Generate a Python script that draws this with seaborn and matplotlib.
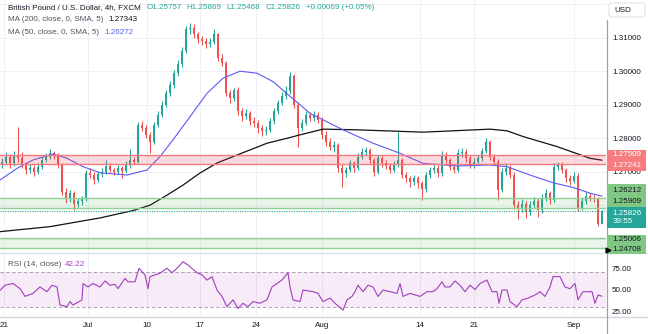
import matplotlib
matplotlib.use("Agg")
import numpy as np
import pandas as pd
import matplotlib.pyplot as plt
from matplotlib.patches import Rectangle, FancyBboxPatch
from matplotlib.lines import Line2D
import seaborn as sns

# ---------------- data (GBP/USD 4h) ----------------
first_open = 1.2720
closes = [
    1.2730, 1.2745, 1.2725, 1.2750, 1.2740, 1.2720, 1.2705, 1.2712, 1.2700, 1.2715,
    1.2735, 1.2745, 1.2755, 1.2748, 1.2720, 1.2640, 1.2620, 1.2635, 1.2605, 1.2612,
    1.2618, 1.2695, 1.2690, 1.2675, 1.2692, 1.2700, 1.2718, 1.2705, 1.2700, 1.2710,
    1.2702, 1.2720, 1.2735, 1.2730, 1.2840, 1.2830, 1.2810, 1.2790, 1.2840, 1.2870,
    1.2900, 1.2935, 1.2960, 1.2995, 1.3020, 1.3060, 1.3125, 1.3130, 1.3110, 1.3095,
    1.3090, 1.3080, 1.3088, 1.3110, 1.3040, 1.3025, 1.2935, 1.2920, 1.2945, 1.2880,
    1.2865, 1.2875, 1.2850, 1.2845, 1.2830, 1.2820, 1.2825, 1.2850, 1.2880, 1.2905,
    1.2925, 1.2940, 1.2985, 1.2900, 1.2830, 1.2845, 1.2870, 1.2860, 1.2870, 1.2855,
    1.2810, 1.2790, 1.2775, 1.2780, 1.2710, 1.2695, 1.2705, 1.2725, 1.2712, 1.2745,
    1.2760, 1.2765, 1.2735, 1.2700, 1.2740, 1.2725, 1.2718, 1.2705, 1.2722, 1.2735,
    1.2690, 1.2680, 1.2668, 1.2680, 1.2665, 1.2648, 1.2690, 1.2705, 1.2712, 1.2695,
    1.2750, 1.2735, 1.2715, 1.2705, 1.2755, 1.2760, 1.2740, 1.2722, 1.2728, 1.2740,
    1.2762, 1.2790, 1.2745, 1.2730, 1.2645, 1.2700, 1.2712, 1.2690, 1.2600, 1.2590,
    1.2605, 1.2580, 1.2600, 1.2612, 1.2585, 1.2620, 1.2635, 1.2615, 1.2715, 1.2722,
    1.2705, 1.2680, 1.2672, 1.2688, 1.2590, 1.2612, 1.2628, 1.2622, 1.2620, 1.2545,
    1.25826,
]
highs = [
    1.2742, 1.2760, 1.2752, 1.2762, 1.2833, 1.2758, 1.2728, 1.2722, 1.2720, 1.2725,
    1.2745, 1.2755, 1.2768, 1.2762, 1.2755, 1.2725, 1.2650, 1.2645, 1.2642, 1.2622,
    1.2628, 1.2705, 1.2712, 1.2698, 1.2700, 1.2710, 1.2735, 1.2725, 1.2712, 1.2720,
    1.2716, 1.2732, 1.2768, 1.2745, 1.2848, 1.2850, 1.2838, 1.2818, 1.2848, 1.2880,
    1.2912, 1.2945, 1.2972, 1.3005, 1.3032, 1.3072, 1.3135, 1.3143, 1.3140, 1.3118,
    1.3105, 1.3098, 1.3100, 1.3125, 1.3115, 1.3050, 1.3030, 1.2945, 1.2950, 1.2952,
    1.2890, 1.2888, 1.2882, 1.2862, 1.2855, 1.2838, 1.2835, 1.2860, 1.2890, 1.2915,
    1.2938, 1.2955, 1.2997, 1.2992, 1.2908, 1.2858, 1.2880, 1.2878, 1.2880, 1.2878,
    1.2862, 1.2820, 1.2800, 1.2792, 1.2785, 1.2722, 1.2715, 1.2735, 1.2732, 1.2755,
    1.2772, 1.2775, 1.2770, 1.2742, 1.2750, 1.2748, 1.2735, 1.2725, 1.2732, 1.2817,
    1.2742, 1.2700, 1.2688, 1.2690, 1.2688, 1.2672, 1.2700, 1.2715, 1.2722, 1.2720,
    1.2762, 1.2758, 1.2742, 1.2722, 1.2768, 1.2772, 1.2768, 1.2748, 1.2740, 1.2750,
    1.2772, 1.2800, 1.2795, 1.2752, 1.2738, 1.2712, 1.2725, 1.2720, 1.2698, 1.2612,
    1.2618, 1.2612, 1.2612, 1.2625, 1.2620, 1.2632, 1.2648, 1.2642, 1.2725, 1.2730,
    1.2728, 1.2712, 1.2690, 1.2700, 1.2695, 1.2622, 1.2638, 1.2635, 1.2632, 1.2625,
    1.25869,
]
lows = [
    1.2712, 1.2722, 1.2712, 1.2718, 1.2730, 1.2710, 1.2692, 1.2695, 1.2688, 1.2692,
    1.2708, 1.2728, 1.2738, 1.2738, 1.2712, 1.2630, 1.2608, 1.2610, 1.2585, 1.2595,
    1.2600, 1.2612, 1.2680, 1.2662, 1.2668, 1.2685, 1.2692, 1.2698, 1.2690, 1.2692,
    1.2680, 1.2695, 1.2712, 1.2722, 1.2725, 1.2820, 1.2800, 1.2755, 1.2782, 1.2832,
    1.2862, 1.2892, 1.2925, 1.2950, 1.2985, 1.3012, 1.3055, 1.3112, 1.3100, 1.3085,
    1.3078, 1.3070, 1.3072, 1.3082, 1.3030, 1.3015, 1.2925, 1.2905, 1.2910, 1.2868,
    1.2852, 1.2858, 1.2838, 1.2832, 1.2815, 1.2808, 1.2810, 1.2818, 1.2842, 1.2872,
    1.2898, 1.2918, 1.2932, 1.2890, 1.2775, 1.2822, 1.2838, 1.2850, 1.2852, 1.2845,
    1.2798, 1.2778, 1.2765, 1.2760, 1.2698, 1.2655, 1.2685, 1.2698, 1.2700, 1.2705,
    1.2738, 1.2750, 1.2725, 1.2688, 1.2692, 1.2715, 1.2708, 1.2695, 1.2698, 1.2715,
    1.2680, 1.2668, 1.2655, 1.2660, 1.2652, 1.2615, 1.2640, 1.2682, 1.2695, 1.2685,
    1.2688, 1.2725, 1.2705, 1.2695, 1.2698, 1.2745, 1.2730, 1.2710, 1.2712, 1.2720,
    1.2732, 1.2755, 1.2735, 1.2720, 1.2615, 1.2638, 1.2690, 1.2680, 1.2590, 1.2560,
    1.2580, 1.2562, 1.2572, 1.2592, 1.2565, 1.2578, 1.2612, 1.2605, 1.2610, 1.2705,
    1.2695, 1.2668, 1.2660, 1.2665, 1.2582, 1.2585, 1.2605, 1.2612, 1.2610, 1.2538,
    1.25468,
]

# moving averages (bar index, value)
ma200_t = [-0.5, 12, 24.5, 32.75, 37, 41.25, 45.25, 49.5, 53.75, 57.75, 62, 66.25,
           72, 74.5, 80.25, 88.75, 105.25, 122, 126.25, 130.25, 138.75, 147, 150]
ma200_v = [1.2521, 1.2536, 1.2562, 1.2584, 1.2600, 1.2630, 1.2660, 1.2696, 1.2726,
           1.2745, 1.2765, 1.2785, 1.2802, 1.2810, 1.2827, 1.2825, 1.2818, 1.2827,
           1.2822, 1.2805, 1.2775, 1.2740, 1.27343]
ma50_t = [-0.5, 3.75, 7.75, 12.75, 16.25, 20.25, 24.5, 31.25, 36.25, 39.5, 42.75, 47,
          51.25, 55.25, 59.5, 63.75, 67.75, 72, 74.5, 77, 85.25, 92.75, 99.5, 105.25,
          113.75, 122, 126.25, 132, 137.75, 142.75, 147, 150]
ma50_v = [1.2675, 1.2710, 1.2735, 1.2753, 1.2740, 1.2715, 1.2697, 1.2690, 1.2705,
          1.2745, 1.2795, 1.2864, 1.2934, 1.2979, 1.3000, 1.2994, 1.2969, 1.2925,
          1.2900, 1.2874, 1.2825, 1.2785, 1.2755, 1.2725, 1.2717, 1.2720, 1.2715,
          1.2690, 1.2667, 1.2653, 1.2636, 1.26272]

# RSI (bar index, value)
rsi_t = [-0.5, 0.75, 2.75, 4.5, 5.75, 7.75, 9.5, 11.25, 12.5, 13.75, 14.5, 16.25, 17,
         17.75, 20, 20.25, 21.5, 22.75, 24.5, 25.75, 27, 28.25, 29, 30.75, 31.5, 33.25,
         34.25, 35.75, 36.5, 37, 39.5, 41.25, 42.5, 43.75, 45.25, 46.5, 48.75, 50,
         51.25, 52.5, 53.75, 55, 56.25, 57.75, 59, 60.25, 61.5, 62.75, 64.5, 66.25,
         67.5, 68.75, 70, 71.5, 72, 72.75, 74.5, 75.25, 77.75, 79, 80.25, 82, 83.25,
         85.25, 86.25, 87.5, 88.25, 89, 90.25, 91.5, 92.75, 94, 95.25, 97, 98.75, 99.5,
         100.25, 102, 104.5, 106.25, 107.75, 108.75, 110, 110.75, 112, 113.25, 114.5,
         115.75, 117, 118.25, 119.5, 121.25, 122.5, 123.75, 124.25, 125, 126.25, 127,
         128.75, 130, 131.5, 133.25, 134.5, 135.75, 137, 137.75, 139.5, 140.75, 142,
         143.25, 144, 145.25, 147.5, 148.25, 149, 150]
rsi_v = [49, 55, 57, 51, 42, 45.5, 53, 47.5, 55, 53, 32, 30, 36, 32, 38, 57, 53, 57,
         53, 60, 55, 56, 51, 63, 59, 59, 74.7, 67, 51, 65, 69, 74.7, 69.6, 74.7, 82.4,
         78.5, 69.6, 67, 61, 65, 49.4, 42, 30, 38, 28, 34, 30, 36, 34, 38, 53, 57, 61,
         69.6, 53, 38, 36, 49.4, 47.5, 45.5, 36, 40, 34, 26, 38, 42, 47.5, 55, 47.5, 55,
         53, 42, 49.4, 47.5, 45.5, 57, 42, 45.5, 42, 47.5, 47.5, 51, 59, 53, 53, 60, 55,
         47.5, 55, 50, 57, 61, 47.5, 47.5, 34, 49.4, 49.4, 36, 30, 38, 40, 43.6, 47.5,
         42, 53, 65, 65, 53, 51, 57, 38, 47.5, 47.5, 34, 43.6, 42.22]

red_zone = (1.27241, 1.27509)
green_zone_a = (1.25909, 1.26212)
green_zone_b = (1.24708, 1.25006)
last_price = 1.25826
countdown = "39:55"

week_ticks = [0.4, 21.5, 36.25, 49.5, 63.5, 80, 104.5, 118, 143]
week_labels = ["21", "Jul", "10", "17", "24", "Aug", "14", "21", "Sep"]
price_ticks = [1.25, 1.26, 1.27, 1.28, 1.29, 1.30, 1.31, 1.32]
price_tick_labels = ["", "", "1.27000", "1.28000", "1.29000", "1.30000", "1.31000", ""]
rsi_ticks = [25, 50, 75]
rsi_tick_labels = ["25.00", "50.00", "75.00"]

title_text = "British Pound / U.S. Dollar, 4h, FXCM"
ohlc_parts = ["O1.25757", "H1.25869", "L1.25468", "C1.25826", "+0.00069 (+0.05%)"]
ma200_label, ma200_value = "MA (200, close, 0, SMA, 5)", "1.27343"
ma50_label, ma50_value = "MA (50, close, 0, SMA, 5)", "1.26272"
rsi_label, rsi_value = "RSI (14, close)", "42.22"

# ---------------- styling ----------------
sns.set_theme(style="white")
plt.rcParams["font.family"] = ["Liberation Sans", "DejaVu Sans"]

W, H = 648, 334
fig = plt.figure(figsize=(W / 100, H / 100), dpi=100, facecolor="white")


def fx(px):
    return px / W


def fy(py):
    return 1 - py / H


ax = fig.add_axes([0, fy(252), fx(606), 252 / H])
axr = fig.add_axes([0, fy(316), fx(606), 63 / H])

UP, DN = "#26a69a", "#ef5350"
TXT = "#131722"
GRAY = "#50535e"
FS = 5.8

n = len(closes)
opens = [first_open] + closes[:-1]
df = pd.DataFrame({"t": np.arange(n), "open": opens, "high": highs,
                   "low": lows, "close": closes})
df["up"] = df["close"] >= df["open"]
df["body_lo"] = df[["open", "close"]].min(axis=1)
df["body_h"] = (df["close"] - df["open"]).abs().clip(lower=0.00008)
cols = np.where(df["up"], UP, DN)

# candles
ax.vlines(df["t"], df["low"], df["high"], colors=cols, lw=0.8, zorder=2)
ax.bar(df["t"], df["body_h"], bottom=df["body_lo"], width=0.72, color=cols,
       linewidth=0, zorder=3)

# moving averages
sns.lineplot(x=ma200_t, y=ma200_v, ax=ax, color="#111111", linewidth=0.9, zorder=4)
sns.lineplot(x=ma50_t, y=ma50_v, ax=ax, color="#5b5bf2", linewidth=0.8, zorder=4)

# zones (semi-transparent, on top)
ax.axhspan(*red_zone, color="#f23645", alpha=0.18, lw=0, zorder=5)
for v in red_zone:
    ax.axhline(v, color="#f77c80", lw=1.0, zorder=5)
for lo, hi in (green_zone_a, green_zone_b):
    ax.axhspan(lo, hi, color="#4caf50", alpha=0.12, lw=0, zorder=5)
    for v in (lo, hi):
        ax.axhline(v, color="#8fd194", lw=1.0, zorder=5)

# current price line
ax.axhline(last_price, color=UP, lw=0.8, ls=(0, (1, 1.2)), zorder=6)

ax.set_xlim(-0.5, 151)
ax.set_ylim(1.24603, 1.32125)
ax.set_xticks(week_ticks)
ax.set_xticklabels([])
ax.set_yticks(price_ticks)
ax.set_yticklabels(price_tick_labels)
ax.yaxis.tick_right()
ax.tick_params(axis="both", length=0)
ax.tick_params(axis="y", pad=4.8, labelsize=FS, labelcolor=TXT)
ax.grid(True, color="#eef0f6", lw=0.7, zorder=0)
ax.set_xlabel("")
ax.set_ylabel("")
for s in ax.spines.values():
    s.set_visible(False)

# RSI pane
axr.axhspan(30, 70, color="#9c27b0", alpha=0.09, lw=0, zorder=1)
for v in (30, 70):
    axr.axhline(v, color="#9598a1", lw=0.6, ls=(0, (4, 3)), zorder=2)
sns.lineplot(x=rsi_t, y=rsi_v, ax=axr, color="#a33dbf", linewidth=0.8, zorder=3)
axr.set_xlim(-0.5, 151)
axr.set_ylim(19.2, 92.5)
axr.set_xticks(week_ticks)
axr.set_xticklabels(week_labels)
axr.set_yticks(rsi_ticks)
axr.set_yticklabels(rsi_tick_labels)
axr.yaxis.tick_right()
axr.tick_params(axis="both", length=0, labelsize=FS, labelcolor=TXT)
axr.tick_params(axis="x", pad=4.6)
axr.tick_params(axis="y", pad=4.3)
axr.grid(True, axis="x", color="#eef0f6", lw=0.7, zorder=0)
axr.set_xlabel("")
axr.set_ylabel("")
for s in axr.spines.values():
    s.set_visible(False)

# frame lines
fig.lines.append(Line2D([0, 1], [fy(252.5), fy(252.5)], transform=fig.transFigure,
                        color="#dfe2e8", lw=1.0))
fig.lines.append(Line2D([0, 1], [fy(316.5), fy(316.5)], transform=fig.transFigure,
                        color="#d1d4dc", lw=1.0))
fig.lines.append(Line2D([fx(606.5), fx(606.5)], [fy(20), fy(334)],
                        transform=fig.transFigure, color="#9ea1aa", lw=0.9))

# legend texts
fig.text(fx(8), fy(7.5), title_text, color=TXT, size=FS, va="center", ha="left")
for xp, s in zip([147, 186.5, 226, 265.5, 306], ohlc_parts):
    fig.text(fx(xp), fy(7.5), s, color=UP, size=FS, va="center", ha="left")
fig.text(fx(8), fy(19.5), ma200_label, color=GRAY, size=FS, va="center", ha="left")
fig.text(fx(108), fy(19.5), ma200_value, color=TXT, size=FS, va="center", ha="left")
fig.text(fx(8), fy(32), ma50_label, color=GRAY, size=FS, va="center", ha="left")
fig.text(fx(104), fy(32), ma50_value, color="#5b5bf2", size=FS, va="center", ha="left")
fig.text(fx(8), fy(265), rsi_label, color=GRAY, size=FS, va="center", ha="left")
fig.text(fx(65), fy(265), rsi_value, color="#a33dbf", size=FS, va="center", ha="left")

# USD box
fig.patches.append(FancyBboxPatch((fx(609), fy(17)), fx(645) - fx(609), 14 / H,
                                  boxstyle="round,pad=0,rounding_size=0.006",
                                  transform=fig.transFigure, facecolor="white",
                                  edgecolor="#e0e3eb", lw=0.8, zorder=5))
fig.text(fx(614), fy(10), "USD", color=TXT, size=FS, va="center", ha="left", zorder=6)


def price_box(y0, y1, rows, bg, fg):
    fig.patches.append(Rectangle((fx(606.5), fy(y1)), fx(645.5) - fx(606.5), (y1 - y0) / H,
                                 transform=fig.transFigure, facecolor=bg,
                                 edgecolor="none", zorder=5))
    for yc, s in rows:
        fig.text(fx(612.5), fy(yc), s, color=fg, size=FS, va="center", ha="left", zorder=6)


price_box(149.5, 171, [(155, f"{red_zone[1]:.5f}"), (165.5, f"{red_zone[0]:.5f}")],
          "#f77c80", "white")
price_box(184, 207, [(190, f"{green_zone_a[1]:.5f}"), (201.5, f"{green_zone_a[0]:.5f}")],
          "#81c784", TXT)
price_box(207, 228, [(213.5, f"{last_price:.5f}"), (221.5, countdown)], UP, "white")
price_box(234.5, 254, [(239.5, f"{green_zone_b[1]:.5f}"), (249.5, f"{green_zone_b[0]:.5f}")],
          "#81c784", TXT)
fig.lines.append(Line2D([fx(607.5)], [fy(249.5)], transform=fig.transFigure,
                        marker=">", color="black", ms=3.5, lw=0, zorder=7))

fig.savefig("out.png", dpi=100, facecolor="white")
